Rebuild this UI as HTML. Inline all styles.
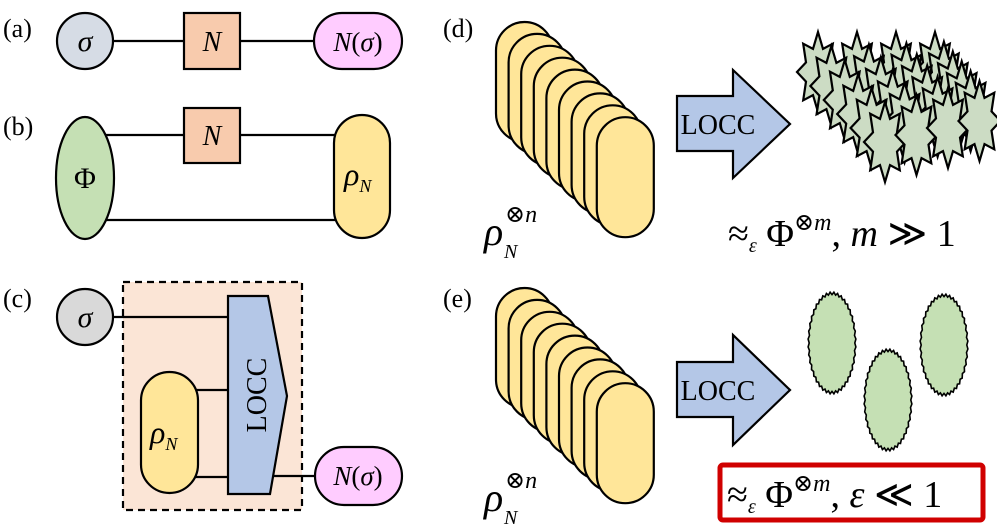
<!DOCTYPE html>
<html><head><meta charset="utf-8"><style>
html,body{margin:0;padding:0;background:#fff;}
svg{display:block;}
text{font-family:"Liberation Serif","DejaVu Serif",serif;}
.it{font-style:italic;}
</style></head><body>
<svg id="s" width="997" height="524" viewBox="0 0 997 524" xmlns="http://www.w3.org/2000/svg">
<g stroke="#000" stroke-width="2.2">
<line x1="85" y1="41" x2="340" y2="41"/>
<circle cx="85" cy="41" r="28" fill="#d6dce5"/>
<rect x="184" y="13" width="56" height="56" fill="#f8cbad"/>
<rect x="314" y="13" width="88" height="56" rx="28" fill="#ffccff"/>
<line x1="100" y1="135" x2="350" y2="135"/>
<line x1="100" y1="220" x2="350" y2="220"/>
<ellipse cx="85" cy="178" rx="29" ry="61" fill="#c5e0b4"/>
<rect x="184" y="108" width="56" height="55" fill="#f8cbad"/>
<rect x="334" y="115" width="56" height="123" rx="28" fill="#ffe699"/>
<rect x="123" y="282" width="179" height="228" fill="#fbe5d6" stroke-dasharray="7,5"/>
<line x1="100" y1="317" x2="228" y2="317"/>
<line x1="190" y1="390" x2="228" y2="390"/>
<line x1="190" y1="477" x2="228" y2="477"/>
<line x1="260" y1="476" x2="320" y2="476"/>
<circle cx="85" cy="317" r="28" fill="#d9d9d9"/>
<rect x="141" y="372" width="57" height="121" rx="28.5" fill="#ffe699"/>
<polygon points="228,296 268,296 287,396 270,494 228,494" fill="#b4c7e7"/>
<rect x="315" y="447" width="87" height="58" rx="29" fill="#ffccff"/>
<polygon points="677,96 733,96 733,70 790,124 733,178 733,151 677,151" fill="#b4c7e7"/>
<polygon points="677,362 733,362 733,335 790,390 733,445 733,417 677,417" fill="#b4c7e7"/>
<g id="stacks"></g>
<g id="stars"></g>
<g id="blobs"></g>
<rect x="720" y="465" width="263" height="55" rx="3" fill="none" stroke="#d00000" stroke-width="5"/>
</g>
<g font-size="26" fill="#000">
<text x="3" y="37">(a)</text>
<text x="3" y="135">(b)</text>
<text x="3" y="307">(c)</text>
<text x="443" y="37">(d)</text>
<text x="443" y="307">(e)</text>
</g>
<g fill="#000">
<text x="85" y="51" font-size="30" class="it" text-anchor="middle">σ</text>
<text x="212" y="51" font-size="28" class="it" text-anchor="middle">N</text>
<text x="358" y="51" font-size="27" text-anchor="middle"><tspan class="it">N</tspan>(<tspan class="it">σ</tspan>)</text>
<text x="85" y="188" font-size="30" text-anchor="middle">Φ</text>
<text x="212" y="145" font-size="28" class="it" text-anchor="middle">N</text>
<text x="344" y="185" font-size="32" class="it">ρ<tspan font-size="18" dy="7">N</tspan></text>
<text x="85" y="327" font-size="30" class="it" text-anchor="middle">σ</text>
<text x="150" y="443" font-size="32" class="it">ρ<tspan font-size="18" dy="7">N</tspan></text>
<text x="358" y="485" font-size="27" text-anchor="middle"><tspan class="it">N</tspan>(<tspan class="it">σ</tspan>)</text>
<text transform="translate(266,395) rotate(-90)" font-size="28" text-anchor="middle">LOCC</text>
<text x="718" y="134" font-size="28" text-anchor="middle">LOCC</text>
<text x="718" y="400" font-size="28" text-anchor="middle">LOCC</text>
<text x="484" y="245" font-size="40" class="it">ρ</text><text x="505" y="222" font-size="24"><tspan>⊗</tspan><tspan class="it">n</tspan></text><text x="504" y="258" font-size="20" class="it">N</text>
<text x="484" y="511" font-size="40" class="it">ρ</text><text x="505" y="488" font-size="24"><tspan>⊗</tspan><tspan class="it">n</tspan></text><text x="504" y="524" font-size="20" class="it">N</text>
<text x="728" y="246" font-size="38">≈<tspan font-size="20" class="it" dy="6">ε</tspan><tspan dy="-6"> Φ</tspan><tspan font-size="24" dy="-16">⊗<tspan class="it">m</tspan></tspan><tspan dy="16">, </tspan><tspan class="it">m</tspan> ≫ 1</text>
<text x="727" y="507" font-size="38">≈<tspan font-size="20" class="it" dy="6">ε</tspan><tspan dy="-6"> Φ</tspan><tspan font-size="24" dy="-16">⊗<tspan class="it">m</tspan></tspan><tspan dy="16">,  </tspan><tspan class="it">ε</tspan> ≪ 1</text>
</g>
</svg>
<script>
var NS="http://www.w3.org/2000/svg";
function el(p,t,a){var e=document.createElementNS(NS,t);for(var k in a)e.setAttribute(k,a[k]);p.appendChild(e);return e;}
var st=document.getElementById("stacks");
[0,266].forEach(function(dy){
 for(var i=0;i<9;i++){el(st,"rect",{x:496+i*12.6,y:22+dy+i*11.9,width:57,height:120,rx:28.5,fill:"#ffe699"});}
});
var sr=document.getElementById("stars");
for(var k=0;k<6;k++){for(var j=0;j<4;j++){
 var cx=818+k*13.4+j*(39-k*1.5), cy=72+k*14-j*k*1.4;
 var pts=[];for(var i=0;i<16;i++){var a=i*Math.PI/8, o=i%2==0;var rx=o?21:13, ry=o?40:25;pts.push((cx+rx*Math.sin(a)).toFixed(1)+","+(cy-ry*Math.cos(a)).toFixed(1));}
 el(sr,"polygon",{points:pts.join(" "),fill:"#ccdcc4"});
}}
var bl=document.getElementById("blobs");
[[832,343],[888,400],[944,345]].forEach(function(c){
 var pts=[];for(var i=0;i<80;i++){var a=i*2*Math.PI/80;var r=(i%2?1:0.95);pts.push((c[0]+24*r*Math.sin(a)).toFixed(1)+","+(c[1]-51*r*Math.cos(a)).toFixed(1));}
 el(bl,"polygon",{points:pts.join(" "),fill:"#c5e0b4","stroke-width":"1.6"});
});
</script>
</body></html>
